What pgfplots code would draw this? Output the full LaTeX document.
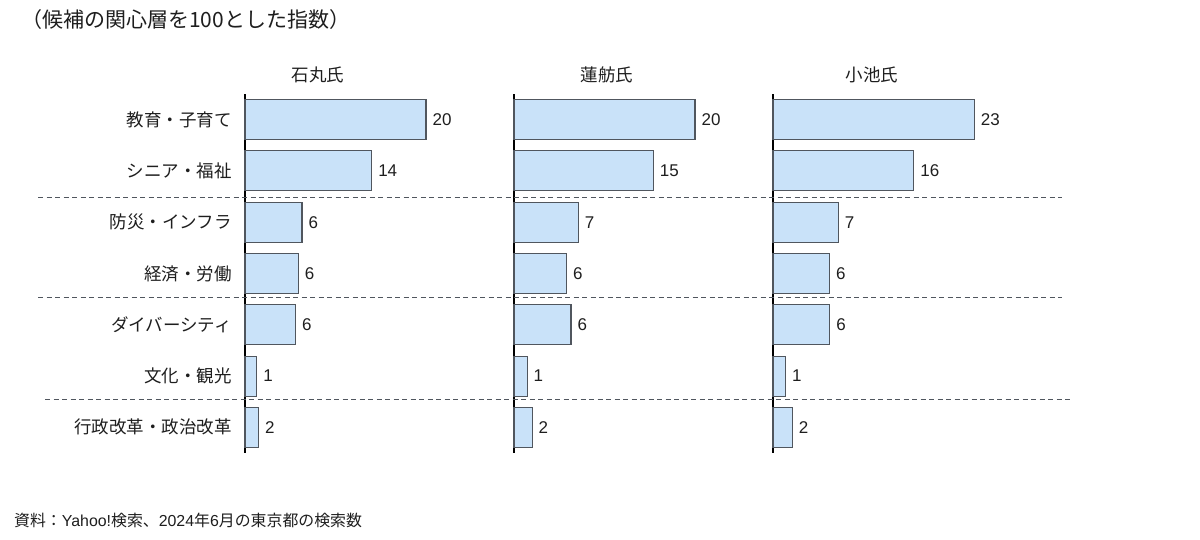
\documentclass[border=0pt]{standalone}
\usepackage{fontspec}
\setmainfont{Liberation Sans}
\newfontfamily\jp{Noto Sans CJK JP}
\usepackage{pgfplots}
\pgfplotsset{compat=1.18}

\definecolor{barfill}{HTML}{C9E2F9}
\definecolor{barline}{HTML}{50565E}
\definecolor{ink}{HTML}{1E1E1E}

% one panel = one candidate
\pgfplotsset{panel/.style={
    xbar, scale only axis, width=250bp, height=359bp, anchor=south west,
    xmin=0, y dir=reverse, ymin=-0.5, ymax=6.5,
    axis x line=none, axis y line=left,
    y axis line style={-, black, line width=1.1bp},
    xtick=\empty, ytick={0,...,6}, major tick length=0pt,
    yticklabels={},
    bar width=40bp, clip=false,
    point meta=explicit symbolic, nodes near coords,
    every node near coord/.append style={anchor=west, inner sep=0pt, xshift=6bp,
        text=ink, font=\fontsize{17bp}{17bp}\selectfont},
    yticklabel style={anchor=east, inner sep=0pt, xshift=-13bp, text=ink,
        font=\jp\fontsize{17.5bp}{17.5bp}\selectfont},
}, bars/.style={fill=barfill, draw=barline, line width=1.1bp}}

\begin{document}
\begin{tikzpicture}

% 石丸氏
\begin{axis}[panel, at={(245bp,87bp)}, xmax=27.62,
    yticklabels={教育・子育て, シニア・福祉, 防災・インフラ, 経済・労働, ダイバーシティ, 文化・観光, 行政改革・政治改革}]
\addplot[bars] coordinates {
    (20.0,0) [20]
    (14.0,1) [14]
    (6.3,2) [6]
    (5.9,3) [6]
    (5.6,4) [6]
    (1.3,5) [1]
    (1.5,6) [2]
};
\end{axis}

% 蓮舫氏
\begin{axis}[panel, at={(514bp,87bp)}, xmax=27.62]
\addplot[bars] coordinates {
    (20.0,0) [20]
    (15.4,1) [15]
    (7.1,2) [7]
    (5.8,3) [6]
    (6.3,4) [6]
    (1.45,5) [1]
    (2.0,6) [2]
};
\end{axis}

% 小池氏
\begin{axis}[panel, at={(773bp,87bp)}, xmax=28.57]
\addplot[bars] coordinates {
    (23.0,0) [23]
    (16.1,1) [16]
    (7.45,2) [7]
    (6.45,3) [6]
    (6.5,4) [6]
    (1.45,5) [1]
    (2.2,6) [2]
};
\end{axis}

% group separators
\draw[barline, line width=1bp, dash pattern=on 5bp off 3.5bp] (38bp,342bp) -- (1062bp,342bp);
\draw[barline, line width=1bp, dash pattern=on 5bp off 3.5bp] (38bp,242bp) -- (1062bp,242bp);
\draw[barline, line width=1bp, dash pattern=on 5bp off 3.5bp] (45bp,140bp) -- (1070bp,140bp);

% panel titles
\node[text=ink, font=\jp\fontsize{17.5bp}{17.5bp}\selectfont] at (318bp,465.5bp) {石丸氏};
\node[text=ink, font=\jp\fontsize{17.5bp}{17.5bp}\selectfont] at (607bp,465.5bp) {蓮舫氏};
\node[text=ink, font=\jp\fontsize{17.5bp}{17.5bp}\selectfont] at (872bp,465.5bp) {小池氏};

% heading and source
\node[anchor=west, inner sep=0pt, text=ink, font=\jp\fontsize{21bp}{21bp}\selectfont]
    at (21bp,520bp) {（候補の関心層を100とした指数）};
\node[anchor=west, inner sep=0pt, text=ink, font=\fontsize{15.9bp}{15.9bp}\selectfont]
    at (14bp,20bp) {{\jp 資料：}Yahoo!{\jp 検索、}2024{\jp 年}6{\jp 月の東京都の検索数}};

\pgfresetboundingbox
\path (0bp,0bp) rectangle (1200bp,540bp);
\end{tikzpicture}
\end{document}
